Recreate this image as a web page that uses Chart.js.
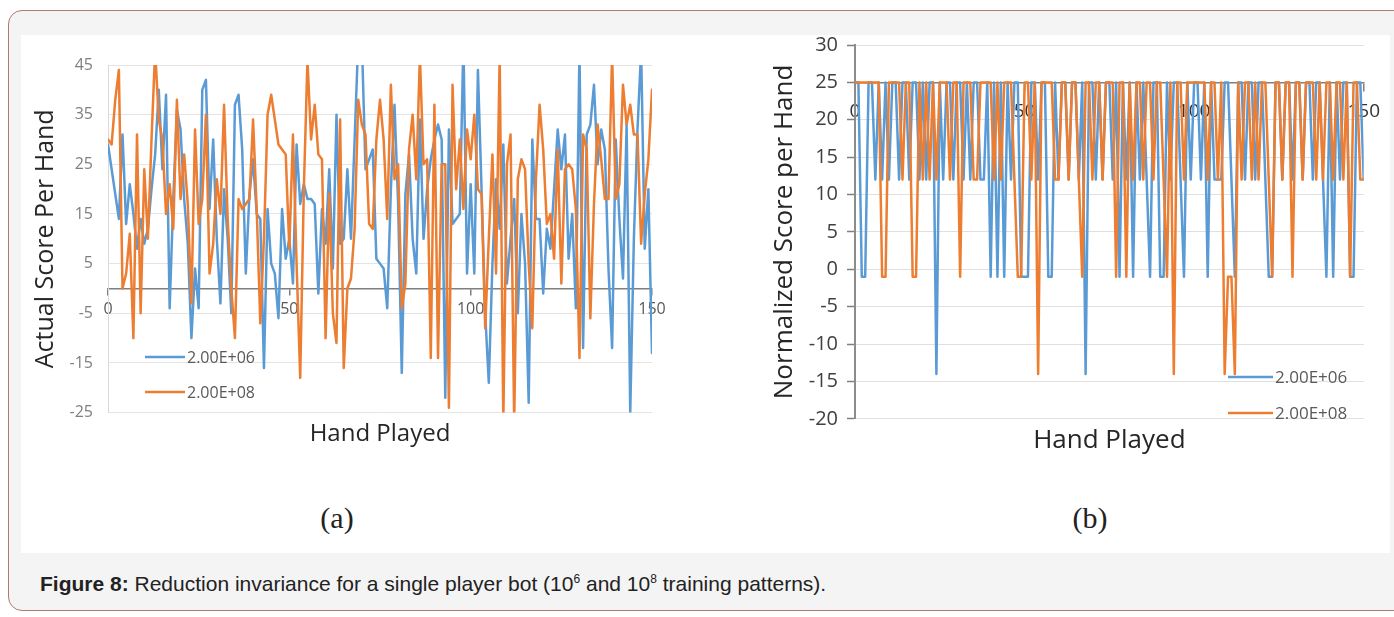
<!DOCTYPE html>
<html>
<head>
<meta charset="utf-8">
<script src="https://cdn.jsdelivr.net/npm/chart.js@4.4.0/dist/chart.umd.min.js"></script>
<style>
  body { margin:0; width:1394px; height:617px; background:#fff; position:relative; overflow:hidden; font-family:"Liberation Sans", Arial, sans-serif; }
  .frame { position:absolute; left:8px; top:10px; width:1400px; height:601px; border:1px solid #b07a6c; border-radius:14px; background:#f4f4f4; box-sizing:border-box; }
  .panel { position:absolute; left:21px; top:35px; width:1369px; height:518px; background:#fff; }
  canvas { position:absolute; }
  #chartA { left:21px; top:40px; }
  #chartB { left:740px; top:24px; }
  .sub { position:absolute; top:501px; font-family:"Liberation Serif", serif; font-size:30px; color:#222; transform:translateX(-50%); }
  .caption { position:absolute; left:40px; top:572px; font-size:21px; color:#222; white-space:nowrap; }
  .caption sup { font-size:12px; line-height:0; }
</style>
</head>
<body>
<div class="frame"></div>
<div class="panel"></div>
<canvas id="chartA" width="660" height="420"></canvas>
<canvas id="chartB" width="650" height="436"></canvas>
<div class="sub" style="left:337px">(a)</div>
<div class="sub" style="left:1090px">(b)</div>
<div class="caption"><b>Figure 8:</b> Reduction invariance for a single player bot (10<sup>6</sup> and 10<sup>8</sup> training patterns).</div>

<script>
const FONT = '"Open Sans", sans-serif';
const BLUE = '#5b9bd5';
const ORANGE = '#ed7d31';

// hand index 0..150
const hands = Array.from({ length: 151 }, (_, i) => i);
const seriesNames = ['2.00E+06', '2.00E+08'];

// (a) actual score per hand
const actual2e6 = [
  29, 24, 19, 14, 31, 13, 21, 15, 8, 14,
  9, 12, 20, 27, 40, 24, 39, -4, 18, 36,
  32, 18, 9, -10, 4, -4, 40, 42, 16, 30,
  10, -3, 20, 10, -5, 37, 39, 28, 3, 19,
  26, 15, 14, -16, 16, 5, 3, -6, 16, 6,
  10, 1, 29, 17, 21, 18, 18, 17, -1, 16,
  9, 24, 4, 35, 9, 10, 24, 10, 30, 50,
  50, 24, 26, 28, 6, 5, 4, -4, 20, 37,
  17, -17, 19, 27, 10, 3, 34, 10, 20, 26,
  30, 33, 30, -22, 32, 13, 14, 15, 50, 3,
  21, 3, 44, 20, -5, -19, 5, 22, 12, 29,
  1, 10, 18, -5, 15, 5, -23, 30, 14, 14,
  -1, 12, 8, 20, 32, 24, 31, 6, 15, -4,
  48, -12, 31, 33, 41, 25, 32, 28, 4, -12,
  30, 14, 2, 33, -25, 10, 32, 48, 8, 20,
  -13
];
const actual2e8 = [
  30, 29, 38, 44, 0, 3, 11, -10, 31, -5,
  24, 10, 30, 48, 34, 30, 15, 21, 12, 38,
  18, 27, 17, -3, 32, 13, 18, 35, 3, 9,
  22, 15, 37, 14, 0, -10, 18, 16, 17, 18,
  34, 16, -7, 10, 35, 39, 34, 29, 28, 27,
  8, 31, 5, -18, 20, 46, 30, 37, 27, 26,
  -10, 19, -5, -11, 34, -16, 0, 2, 12, 38,
  33, 31, 13, 12, 30, 38, 30, 14, 41, 22,
  25, -4, 1, 28, 35, 22, 47, 25, 26, -14,
  37, -14, 25, 25, -24, 41, 20, 30, 16, 32,
  26, 35, 20, 19, -8, 10, 27, 3, 47, -27,
  25, 31, -27, 22, 26, 24, 5, -8, 22, 37,
  28, 13, 15, 6, 28, 1, 24, 25, 24, 16,
  -14, 31, 28, -6, 17, 33, 26, 18, 18, 47,
  18, 21, 41, 33, 37, 31, 31, 9, 19, 26,
  40
];

// (b) normalized score per hand
const norm2e6 = [
  25, 25, -1, -1, 25, 25, 12, 25, 12, 25,
  12, 25, 25, 12, 25, 25, 12, 25, 25, 12,
  25, 12, 25, 25, -14, 25, 12, 25, 25, 12,
  25, 25, 12, 25, 12, 25, 25, 12, 12, 25,
  -1, 25, -1, 25, -1, 25, 12, 25, 25, -1,
  -1, -1, 25, 25, 12, 25, 25, -1, -1, 25,
  12, 25, 25, 12, 25, 25, 12, 25, -14, 25,
  25, 12, 25, 12, 25, 25, 12, 25, -1, 25,
  12, 25, -1, 25, 12, 25, 12, -1, 25, 25,
  -1, -1, 25, 12, 25, 25, 12, -1, 25, 12,
  25, 25, 12, 25, -1, 25, 12, 12, 12, 25,
  25, 12, -1, 25, 25, 12, 25, 25, 12, 25,
  25, 12, -1, -1, 25, 25, 12, 25, 25, 12,
  25, 25, 12, 25, 25, 12, 25, 25, 12, -1,
  25, -1, 25, 12, 25, 25, -1, -1, 25, 25,
  12
];
const norm2e8 = [
  25, 25, 25, 25, 25, 25, 25, 25, -1, -1,
  25, 25, 25, 25, 12, 25, 25, -1, -1, 25,
  12, 25, 12, 25, 12, 25, 25, 25, 12, 25,
  25, -1, 25, 25, 25, 12, 12, 25, 25, 25,
  25, 12, 25, 12, 25, 25, 25, 12, -1, -1,
  25, 25, 12, 25, -14, 25, 25, 25, 25, 12,
  12, 25, 25, 12, 25, 25, 12, -1, 25, 25,
  12, 25, 25, 12, 25, 25, 25, -1, 25, 25,
  -1, 25, 12, 25, 25, 12, 25, 25, 12, 25,
  25, 12, -1, 25, -14, 25, 25, 12, 25, 25,
  25, 25, 25, 25, 12, 25, 25, 12, 25, -14,
  -1, -1, -14, 25, 12, 25, 25, 12, 25, 12,
  25, 25, 12, -1, 25, 25, 12, 25, 25, -1,
  25, 25, 12, 25, 25, 25, 12, 25, 12, 25,
  25, 12, 25, 25, 12, 25, -1, 25, 25, 12,
  12
];

const toPoints = vals => hands.map((h, i) => ({ x: h, y: vals[i] }));

// legend drawn inside the plot, relative to the chart area
const cornerLegend = {
  id: 'cornerLegend',
  afterDraw(chart, args, opts) {
    if (opts.x === undefined) return;
    const { ctx, chartArea } = chart;
    ctx.save();
    ctx.font = opts.font;
    ctx.textBaseline = 'middle';
    chart.data.datasets.forEach((ds, i) => {
      const x = chartArea.left + opts.x;
      const y = chartArea.top + opts.y + i * opts.gap;
      ctx.strokeStyle = ds.borderColor;
      ctx.lineWidth = 2.5;
      ctx.beginPath();
      ctx.moveTo(x, y);
      ctx.lineTo(x + opts.len, y);
      ctx.stroke();
      ctx.fillStyle = opts.color;
      ctx.fillText(ds.label, x + opts.len + 2, y + 1);
    });
    ctx.restore();
  }
};
Chart.register(cornerLegend);

function lineSets(a, b) {
  return [
    { label: seriesNames[0], data: toPoints(a), borderColor: BLUE, order: 2 },
    { label: seriesNames[1], data: toPoints(b), borderColor: ORANGE, order: 1 }
  ].map(d => Object.assign(d, {
    borderWidth: 2.5, pointRadius: 0, tension: 0, fill: false,
    borderJoinStyle: 'round', borderCapStyle: 'round'
  }));
}

new Chart(document.getElementById('chartA'), {
  type: 'line',
  data: { datasets: lineSets(actual2e6, actual2e8) },
  options: {
    responsive: false,
    animation: false,
    devicePixelRatio: 1,
    layout: { padding: { left: 0, right: 29, top: 25, bottom: 11 } },
    plugins: {
      legend: { display: false },
      tooltip: { enabled: false },
      title: {
        display: true, position: 'bottom', fullSize: false, text: 'Hand Played',
        color: '#262626', font: { family: FONT, size: 24, weight: 'normal' },
        padding: { top: 7.6, bottom: 0 }
      },
      cornerLegend: { x: 37, y: 292, gap: 35, len: 40, font: '16px ' + FONT, color: '#595959' }
    },
    scales: {
      x: {
        type: 'linear', min: 0, max: 150, position: { y: 0 },
        afterFit: s => { s.height = 0; },
        ticks: { stepSize: 50, color: '#595959', font: { family: FONT, size: 16 }, padding: 5, maxRotation: 0 },
        grid: { drawOnChartArea: false, drawTicks: true, tickLength: 6, color: '#7f7f7f', lineWidth: 1.5 },
        border: { color: '#7f7f7f', width: 1.5 }
      },
      y: {
        min: -25, max: 45,
        afterFit: s => { s.width = 87; },
        ticks: { stepSize: 10, color: '#7f7f7f', font: { family: FONT, size: 16 }, padding: 15 },
        grid: { color: '#e4e4e4', drawTicks: false },
        border: { color: '#d9d9d9' },
        title: {
          display: true, text: 'Actual Score Per Hand', color: '#262626',
          font: { family: FONT, size: 25 }, padding: { top: 10 }
        }
      }
    }
  }
});

new Chart(document.getElementById('chartB'), {
  type: 'line',
  data: { datasets: lineSets(norm2e6, norm2e8) },
  options: {
    responsive: false,
    animation: false,
    devicePixelRatio: 1,
    layout: { padding: { left: 0, right: 25, top: 15, bottom: 4 } },
    plugins: {
      legend: { display: false },
      tooltip: { enabled: false },
      title: {
        display: true, position: 'bottom', fullSize: false, text: 'Hand Played',
        color: '#262626', font: { family: FONT, size: 26, weight: 'normal' },
        padding: { top: 6, bottom: 0 }
      },
      cornerLegend: { x: 373, y: 332, gap: 36, len: 45, font: '17px ' + FONT, color: '#595959' }
    },
    scales: {
      x: {
        type: 'linear', min: 0, max: 150, position: { y: 25 },
        afterFit: s => { s.height = 0; },
        ticks: { stepSize: 50, color: '#333333', font: { family: FONT, size: 19 }, padding: 10, maxRotation: 0 },
        grid: { drawOnChartArea: false, drawTicks: true, tickLength: 8, color: '#808080', lineWidth: 1.5 },
        border: { color: '#808080', width: 1.5 }
      },
      y: {
        min: -20, max: 30,
        afterFit: s => { s.width = 115; },
        ticks: { stepSize: 5, color: '#404040', font: { family: FONT, size: 20 }, padding: 9 },
        grid: { color: '#e0e0e0', tickLength: 8, tickColor: '#808080', tickWidth: 1.5 },
        border: { color: '#8c8c8c', width: 2 },
        title: {
          display: true, text: 'Normalized Score per Hand', color: '#262626',
          font: { family: FONT, size: 26 }, padding: { top: 29 }
        }
      }
    }
  }
});
</script>
</body>
</html>
